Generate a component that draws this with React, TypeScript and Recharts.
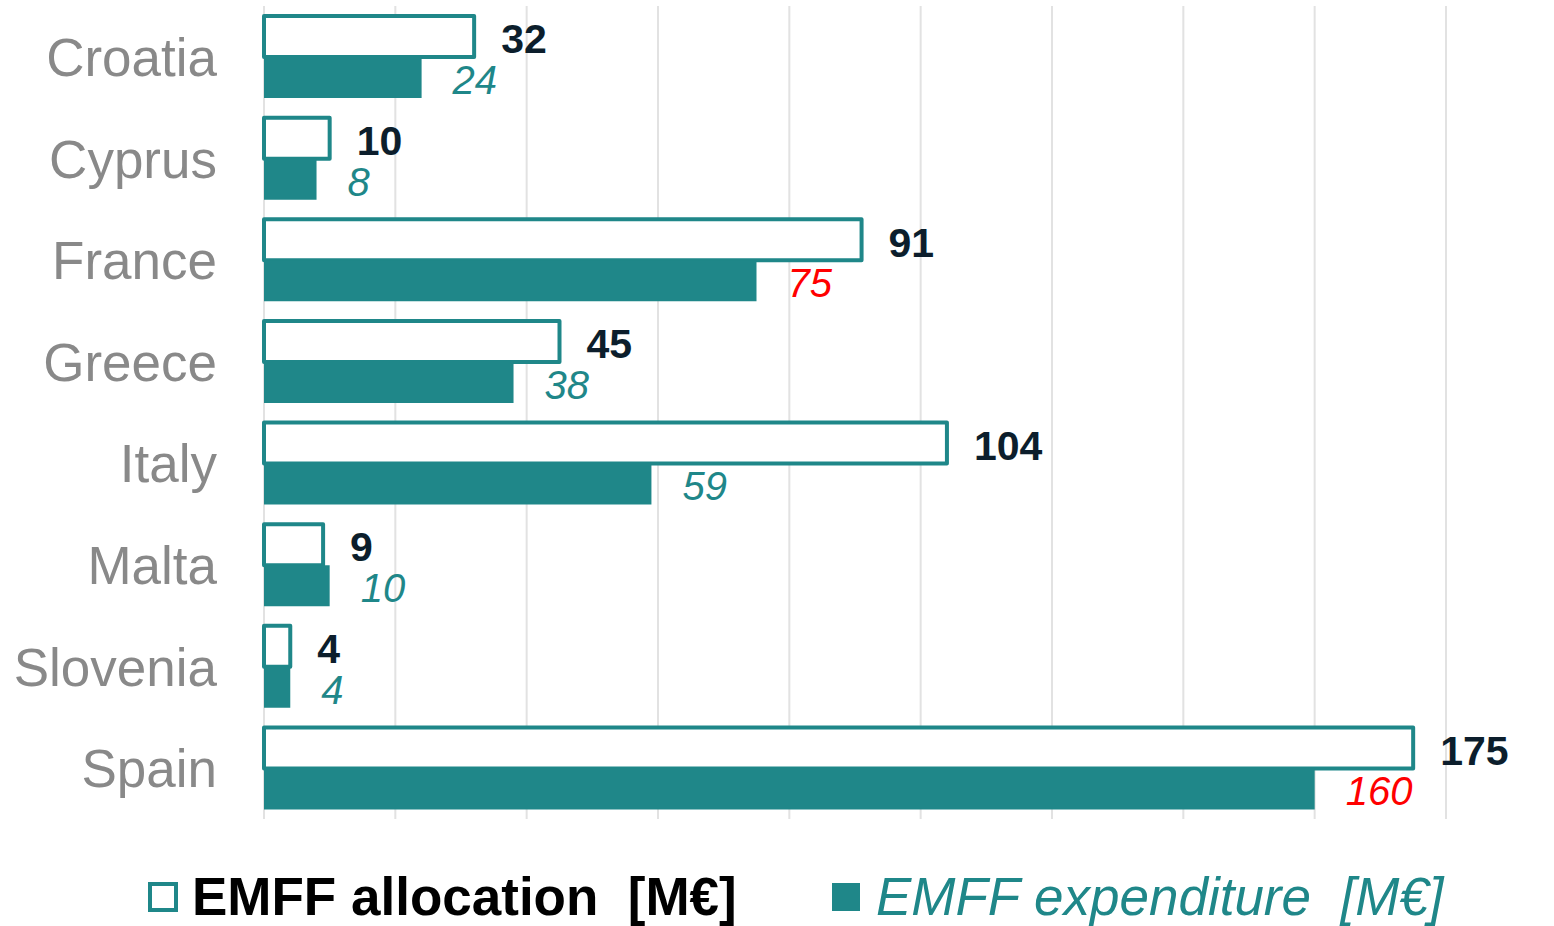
import React from 'react';
import { BarChart, Bar, XAxis, YAxis, CartesianGrid, Legend, LabelList } from 'recharts';

const countries = ['Croatia', 'Cyprus', 'France', 'Greece', 'Italy', 'Malta', 'Slovenia', 'Spain'];
const allocation = [32, 10, 91, 45, 104, 9, 4, 175];
const expenditure = [24, 8, 75, 38, 59, 10, 4, 160];
const xTicks = [0, 20, 40, 60, 80, 100, 120, 140, 160, 180];
// expenditure labels drawn in red for these
const redLabels = ['France', 'Spain'];

const TEAL = '#1F8789';
const NAVY = '#0C1E2C';
const FONT = 'Arial, "Liberation Sans", sans-serif';

const data = countries.map((name, i) => ({
  name,
  allocation: allocation[i],
  expenditure: expenditure[i],
}));

const CountryTick = (props: any) => {
  const { x, y, payload } = props;
  return (
    <text x={x - 39} y={y} dy="0.36em" textAnchor="end" fill="#898989" fontSize={53} fontFamily={FONT}>
      {payload.value}
    </text>
  );
};

const AllocationLabel = (props: any) => {
  const { x, y, width, height, value } = props;
  return (
    <text x={x + width + 27} y={y + height / 2 + 2} dy="0.36em" fill={NAVY} fontSize={41} fontWeight="bold" fontFamily={FONT}>
      {value}
    </text>
  );
};

const ExpenditureLabel = (props: any) => {
  const { x, y, width, height, value, index } = props;
  const fill = redLabels.includes(countries[index]) ? '#FF0000' : TEAL;
  return (
    <text x={x + width + 31} y={y + height / 2 + 2} dy="0.36em" fill={fill} fontSize={40} fontStyle="italic" fontFamily={FONT}>
      {value}
    </text>
  );
};

const renderLegend = () => (
  <div style={{ position: 'relative', height: 107, fontFamily: FONT, fontSize: 53, lineHeight: '60px' }}>
    <div style={{ position: 'absolute', left: 148, top: 48, display: 'flex', alignItems: 'center' }}>
      <span style={{ width: 22, height: 22, border: `4px solid ${TEAL}`, background: '#fff', display: 'inline-block', marginRight: 14 }} />
      <span style={{ fontWeight: 'bold', color: '#000', whiteSpace: 'pre' }}>EMFF allocation  [M€]</span>
    </div>
    <div style={{ position: 'absolute', left: 832, top: 48, display: 'flex', alignItems: 'center' }}>
      <span style={{ width: 28, height: 28, background: TEAL, display: 'inline-block', marginRight: 16 }} />
      <span style={{ fontStyle: 'italic', color: TEAL, whiteSpace: 'pre' }}>EMFF expenditure  [M€]</span>
    </div>
  </div>
);

const App: React.FC = () => {
  return (
    <div style={{ position: 'absolute', left: 0, top: 0, width: 1554, height: 926, background: '#fff' }}>
      <BarChart
        width={1554}
        height={926}
        data={data}
        layout="vertical"
        margin={{ top: 6, right: 108, left: 0, bottom: 0 }}
        barSize={41}
        barGap={0}
      >
        <CartesianGrid horizontal={false} stroke="#E2E2E2" strokeWidth={2} />
        <XAxis type="number" domain={[0, 180]} ticks={xTicks} hide />
        <YAxis type="category" dataKey="name" width={264} axisLine={false} tickLine={false} tick={<CountryTick />} />
        <Legend verticalAlign="bottom" height={107} content={renderLegend} wrapperStyle={{ left: 0, width: 1554 }} />
        <Bar dataKey="allocation" fill="#FFFFFF" stroke={TEAL} strokeWidth={4} strokeLinejoin="round" isAnimationActive={false}>
          <LabelList dataKey="allocation" content={<AllocationLabel />} />
        </Bar>
        <Bar dataKey="expenditure" fill={TEAL} isAnimationActive={false}>
          <LabelList dataKey="expenditure" content={<ExpenditureLabel />} />
        </Bar>
      </BarChart>
    </div>
  );
};

export default App;
